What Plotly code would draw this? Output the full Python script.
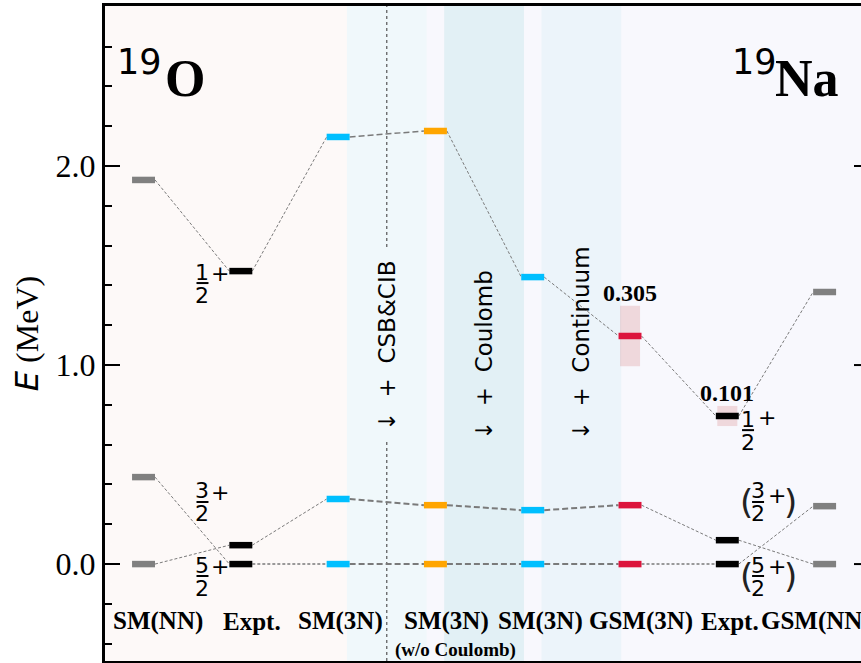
import plotly.graph_objects as go

# ---------------- data ----------------
columns = ["SM(NN)", "Expt.", "SM(3N)", "SM(3N)", "SM(3N)", "GSM(3N)", "Expt.", "GSM(NN)"]
col_colors = ["#808080", "#000000", "#00bfff", "#ffa500", "#00bfff", "#dc143c", "#000000", "#808080"]
E_half = [1.930, 1.472, 2.146, 2.176, 1.442, 1.146, 0.744, 1.367]   # 1/2+
E_3half = [0.000, 0.095, 0.327, 0.296, 0.271, 0.296, 0.120, 0.000]  # 3/2+
E_5half = [0.437, 0.000, 0.000, 0.000, 0.000, 0.000, 0.000, 0.291]  # 5/2+
widths_col = [5, 6]            # columns with 1/2+ resonance widths
widths_val = [0.305, 0.101]    # MeV
steps = ["CSB&CIB", "Coulomb", "Continuum"]
tick_vals = [0.0, 1.0, 2.0]
tick_text = ["0.0", "1.0", "2.0"]

# ---------------- layout constants ----------------
XR = [-0.396, 7.374]
YR = [-0.487, 2.804]
HW = 0.118  # half width of level bars
SERIF = "Liberation Serif"
SANS = "DejaVu Sans"

fig = go.Figure()

# background regions
shapes = []
shapes.append(dict(type="rect", xref="x", yref="paper", x0=XR[0], x1=2.5, y0=0, y1=1,
                   fillcolor="#fdf9f8", line_width=0, layer="below"))
band_cols = ["#f0f8fb", "#e2f0f5", "#ecf4fa"]
for k, c in enumerate(band_cols):
    xc = 2.5 + k
    shapes.append(dict(type="rect", xref="x", yref="paper", x0=xc - 0.41, x1=xc + 0.41, y0=0, y1=1,
                       fillcolor=c, line_width=0, layer="below"))
# dotted separator
shapes.append(dict(type="line", xref="x", yref="paper", x0=2.5, x1=2.5, y0=0, y1=1,
                   line=dict(color="#555555", width=1.2, dash="dot"), layer="below"))

# width boxes
for c, w in zip(widths_col, widths_val):
    e = E_half[c]
    fig.add_trace(go.Scatter(x=[c - 0.103, c + 0.103, c + 0.103, c - 0.103, c - 0.103],
                             y=[e - w / 2, e - w / 2, e + w / 2, e + w / 2, e - w / 2],
                             fill="toself", fillcolor="rgba(205,92,92,0.2)", line=dict(width=0),
                             mode="lines", hoverinfo="skip", showlegend=False))

# connecting lines
states = [E_half, E_3half, E_5half]
seg_w = [[1, 1, 1.5, 1, 1, 1, 1],
         [1, 1, 2, 2, 2, 1, 1],
         [1, 1.4, 2, 2, 2, 1.4, 1]]
for s, E in enumerate(states):
    for i in range(len(columns) - 1):
        w = seg_w[s][i]
        fig.add_trace(go.Scatter(x=[i + HW, i + 1 - HW], y=[E[i], E[i + 1]], mode="lines",
                                 line=dict(color="#7a7a7a", width=w,
                                           dash="3px,2px" if w < 1.5 else "6px,3px"),
                                 hoverinfo="skip", showlegend=False))

# level bars
for i, col in enumerate(columns):
    xs, ys = [], []
    for E in states:
        xs += [i - HW, i + HW, None]
        ys += [E[i], E[i], None]
    fig.add_trace(go.Scatter(x=xs, y=ys, mode="lines", line=dict(color=col_colors[i], width=6.5),
                             hoverinfo="skip", showlegend=False))

ann = []
# category labels
lab_dx = [0.149, 0.110, 0.020, 0.114, 0.085, 0.113, 0.028, -0.089]
for i, (lab, dx) in enumerate(zip(columns, lab_dx)):
    ann.append(dict(x=i + dx, y=-0.286, text=lab, showarrow=False, xanchor="center", yanchor="middle",
                    font=dict(family=SERIF, size=25, color="black", weight="bold")))
ann.append(dict(x=3.21, y=-0.432, text="(w/o Coulomb)", showarrow=False,
                font=dict(family=SERIF, size=19, color="black", weight="bold")))

# nucleus labels
ann.append(dict(x=-0.041, y=2.523, text="19", showarrow=False, font=dict(family=SANS, size=35, color="black")))
ann.append(dict(x=0.427, y=2.44, text="O", showarrow=False,
                font=dict(family=SERIF, size=52, color="black", weight="bold")))
ann.append(dict(x=6.275, y=2.523, text="19", showarrow=False, font=dict(family=SANS, size=35, color="black")))
ann.append(dict(x=6.824, y=2.44, text="Na", showarrow=False,
                font=dict(family=SERIF, size=52, color="black", weight="bold")))

# width labels
for c, w in zip(widths_col, widths_val):
    ann.append(dict(x=c, y=E_half[c] + w / 2, yshift=13, text=f"{w:.3f}", showarrow=False,
                    font=dict(family=SERIF, size=24, color="black", weight="bold")))

# step annotations (rotated)
for k, t in enumerate(steps):
    a = dict(x=2.5 + k, y=0.613, text="↓\u00a0\u00a0+\u00a0\u00a0" + t, textangle=-90, showarrow=False,
             xanchor="center", yanchor="bottom", font=dict(family=SANS, size=23, color="black"))
    if k == 0:
        a.update(bgcolor=band_cols[0], borderpad=10)
    ann.append(a)

# spin fractions
def frac(xc, ybar, num, den, xplus, yplus, paren=None):
    ann.append(dict(x=xc, y=ybar, yshift=11, text=num, showarrow=False,
                    font=dict(family=SANS, size=22, color="black")))
    ann.append(dict(x=xc, y=ybar, yshift=-12, text=den, showarrow=False,
                    font=dict(family=SANS, size=22, color="black")))
    ann.append(dict(x=xplus, y=yplus, text="+", showarrow=False,
                    font=dict(family=SANS, size=22, color="black")))
    shapes.append(dict(type="line", xref="x", yref="y", xsizemode="pixel", xanchor=xc, x0=-6, x1=6,
                       y0=ybar, y1=ybar, line=dict(color="black", width=2)))
    if paren:
        for px, ch in zip(paren, ["(", ")"]):
            ann.append(dict(x=px, y=ybar, text=ch, showarrow=False,
                            font=dict(family=SANS, size=34, color="#222222")))

frac(0.606, 1.412, "1", "2", 0.786, 1.462)
frac(0.606, 0.312, "3", "2", 0.786, 0.362)
frac(0.606, -0.060, "5", "2", 0.786, -0.010)
frac(6.213, 0.673, "1", "2", 6.408, 0.734)
frac(6.316, 0.312, "3", "2", 6.51, 0.347, paren=(6.20, 6.645))
frac(6.316, -0.060, "5", "2", 6.51, -0.010, paren=(6.20, 6.645))

# right-side ticks (spine is outside the visible page)
for v in tick_vals:
    shapes.append(dict(type="line", xref="paper", yref="y", x0=1 - 7 / 756, x1=1, y0=v, y1=v,
                       line=dict(color="black", width=2)))

fig.update_layout(
    width=861, height=663,
    margin=dict(l=105, r=0, t=6, b=2),
    paper_bgcolor="white", plot_bgcolor="#f8f8fd",
    shapes=shapes, annotations=ann, showlegend=False,
    xaxis=dict(range=XR, showgrid=False, zeroline=False, showticklabels=False, ticks="",
               showline=True, mirror=True, linecolor="black", linewidth=2.5, fixedrange=True),
    yaxis=dict(range=YR, showgrid=False, zeroline=False, showline=True, mirror=False,
               linecolor="black", linewidth=3, tickmode="array", tickvals=tick_vals, ticktext=tick_text,
               ticks="inside", ticklen=15, tickwidth=2, tickcolor="black",
               tickfont=dict(family=SERIF, size=32, color="black"),
               minor=dict(dtick=0.2, tick0=0, ticks="inside", ticklen=7, tickwidth=1.5, tickcolor="black"),
               title=dict(text='<span style="font-family:DejaVu Sans"><i>E</i></span> (MeV)',
                          font=dict(family=SERIF, size=32, color="black"), standoff=8)),
)

fig.write_html("out.html")
